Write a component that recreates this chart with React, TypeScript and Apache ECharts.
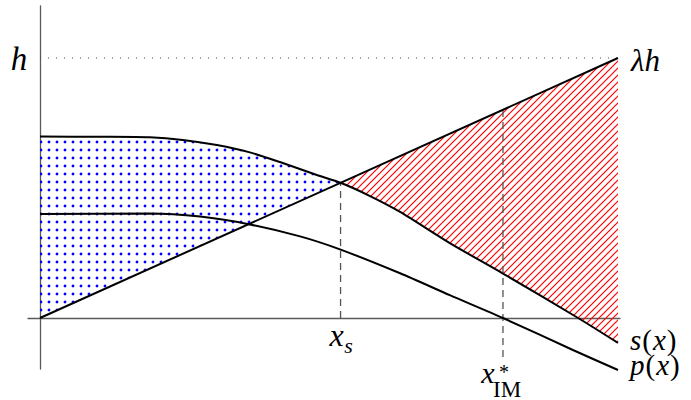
import React, { useEffect, useRef } from 'react';
import * as echarts from 'echarts';

// Plot window in data units (h = 10, x runs 0..10 across the drawn curves)
const X_MIN = -0.2076;
const X_MAX = 10.0346;
const Y_MIN = -1.9615;
const Y_MAX = 12;

const H = 10; // the level h
const X_S = 5.2; // where s(x) meets the line λh·x
const X_IM = 8.01; // zero of p(x)

// λh·x line
const lineX = [0, 10];
const lineY = [0, 10];

// s(x)
const sX = [0, 1.04, 1.9, 2.47, 3.06, 3.63, 4.2, 4.79, 5.2, 5.71, 6.23, 7.09, 8.01, 9.31, 10];
const sY = [6.98, 6.97, 6.95, 6.85, 6.65, 6.37, 5.96, 5.5, 5.2, 4.69, 4.08, 2.88, 1.71, 0, -0.96];

// p(x)
const pX = [0, 1.9, 2.77, 3.63, 4.5, 5.19, 6.23, 7.09, 8.01, 9.22, 10];
const pY = [4.0, 4.02, 3.9, 3.6, 3.14, 2.64, 1.72, 0.88, 0, -1.23, -2.0];

const FONT = 'Liberation Serif';

const zip = (xs: number[], ys: number[]) => xs.map((x, i) => [x, ys[i]]);

function dotPattern() {
  const c = document.createElement('canvas');
  c.width = 8;
  c.height = 8;
  const g = c.getContext('2d')!;
  g.fillStyle = '#0000ff';
  for (const [cx, cy] of [[1, 6], [9, 6], [1, -2], [9, -2]]) {
    g.beginPath();
    g.arc(cx, cy, 1.4, 0, Math.PI * 2);
    g.fill();
  }
  return { image: c.toDataURL(), imageWidth: 8, imageHeight: 8, repeat: 'repeat' };
}

function hatchPattern() {
  const c = document.createElement('canvas');
  c.width = 7;
  c.height = 7;
  const g = c.getContext('2d')!;
  g.strokeStyle = '#ff0000';
  g.lineWidth = 1.2;
  g.beginPath();
  for (const o of [-7, 0, 7]) {
    g.moveTo(o - 1, 8);
    g.lineTo(o + 8, -1);
  }
  g.stroke();
  return { image: c.toDataURL(), imageWidth: 7, imageHeight: 7, repeat: 'repeat' };
}

function regionSeries(poly: number[][], fill: any) {
  return {
    type: 'custom',
    silent: true,
    clip: false,
    data: [[0, 0]],
    z: 1,
    renderItem: (_p: any, api: any) => ({
      type: 'polygon',
      shape: { points: poly.map((pt) => api.coord(pt)) },
      style: { fill, stroke: null },
    }),
  };
}

function lineSeries(data: number[][], style: any, z = 3, smooth: number | boolean = false) {
  return {
    type: 'line',
    data,
    symbol: 'none',
    showSymbol: false,
    clip: false,
    silent: true,
    smooth,
    z,
    lineStyle: style,
  };
}

export default function App() {
  const ref = useRef<HTMLDivElement>(null);

  useEffect(() => {
    if (!ref.current) return;
    const chart = echarts.init(ref.current, undefined, { renderer: 'svg' });

    const s = zip(sX, sY);
    const p = zip(pX, pY);
    const lam = zip(lineX, lineY);

    // region between s(x) above and the line below, left of x_s
    const left = s.filter(([x]) => x <= X_S);
    const bluePoly = [...left, [0, 0]];
    // region between the line above and s(x) below, right of x_s
    const right = s.filter(([x]) => x >= X_S).reverse();
    const redPoly = [[X_S, X_S], [10, 10], ...right];

    const axisStyle = { color: '#5a5a5a', width: 1.3 };

    chart.setOption({
      animation: false,
      backgroundColor: '#fff',
      grid: { left: 28, right: 71, top: 6, bottom: 31 },
      xAxis: {
        type: 'value',
        min: X_MIN,
        max: X_MAX,
        axisLine: { show: true, onZero: true, lineStyle: axisStyle },
        axisTick: { show: false },
        axisLabel: { show: false },
        splitLine: { show: false },
      },
      yAxis: {
        type: 'value',
        min: Y_MIN,
        max: Y_MAX,
        axisLine: { show: true, onZero: true, lineStyle: axisStyle },
        axisTick: { show: false },
        axisLabel: { show: false },
        splitLine: { show: false },
      },
      series: [
        regionSeries(bluePoly, dotPattern()),
        regionSeries(redPoly, hatchPattern()),
        lineSeries([[0, H], [10, H]], { color: '#444', width: 1, type: [1, 7] }),
        lineSeries([[X_S, 0], [X_S, X_S]], { color: '#555', width: 1.3, type: [7, 5] }),
        lineSeries([[X_IM, -1.5], [X_IM, X_IM]], { color: '#555', width: 1.3, type: [7, 5] }),
        lineSeries(lam, { color: '#000', width: 2 }, 4),
        lineSeries(s, { color: '#000', width: 2 }, 4, 0.25),
        lineSeries(p, { color: '#000', width: 2 }, 4, 0.25),
      ],
    });

    const px = (x: number, y: number) => chart.convertToPixel({ gridIndex: 0 }, [x, y]) as number[];
    const txt = (text: string, x: number, y: number, size: number, italic: boolean, align = 'center') => ({
      type: 'text',
      x,
      y,
      silent: true,
      z: 10,
      style: {
        text,
        fontSize: size,
        fontFamily: FONT,
        fontStyle: italic ? 'italic' : 'normal',
        fill: '#000',
        align,
        verticalAlign: 'middle',
      },
    });
    const fnLabel = (name: string, x: number, y: number) => ({
      type: 'text',
      x,
      y,
      silent: true,
      z: 10,
      style: {
        text: `{i|${name}}{r|(}{i|x}{r|)}`,
        fill: '#000',
        align: 'left',
        verticalAlign: 'middle',
        rich: {
          i: { fontSize: 29, fontFamily: FONT, fontStyle: 'italic', fill: '#000' },
          r: { fontSize: 29, fontFamily: FONT, fill: '#000', padding: [0, 1, 0, 1] },
        },
      },
    });

    const hP = px(0, H);
    const lhP = px(10, H);
    const sEnd = px(sX[sX.length - 1], sY[sY.length - 1]);
    const pEnd = px(pX[pX.length - 1], pY[pY.length - 1]);
    const xsP = px(X_S, 0);
    const ximP = px(X_IM, 0);

    chart.setOption({
      graphic: [
        txt('h', hP[0] - 21, hP[1] + 1, 33, true),
        txt('λh', lhP[0] + 13, lhP[1] + 2, 31, true, 'left'),
        fnLabel('s', sEnd[0] + 12, sEnd[1] - 3),
        fnLabel('p', pEnd[0] + 12, pEnd[1] - 5),
        txt('x', xsP[0] - 4, xsP[1] + 17, 32, true),
        txt('s', xsP[0] + 8, xsP[1] + 27, 22, true),
        txt('x', ximP[0] - 15, ximP[1] + 54, 30, true),
        txt('*', ximP[0] + 1, ximP[1] + 54, 20, false),
        txt('IM', ximP[0] - 10, ximP[1] + 71, 23, false, 'left'),
      ],
    });

    return () => chart.dispose();
  }, []);

  return (
    <div
      ref={ref}
      style={{ position: 'absolute', left: 0, top: 0, width: 691, height: 400, background: '#fff' }}
    />
  );
}
